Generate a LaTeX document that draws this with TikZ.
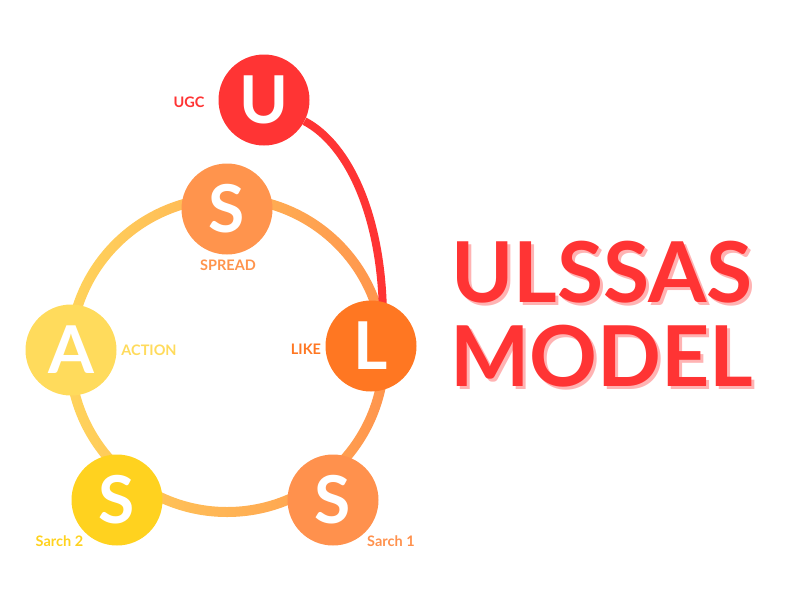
\documentclass[tikz,border=0pt]{standalone}
\usepackage{fontspec}
\setmainfont{Lato}
\definecolor{cU}{HTML}{FF3434}
\definecolor{cSp}{HTML}{FF944D}
\definecolor{cL}{HTML}{FF7722}
\definecolor{cA}{HTML}{FFDB5C}
\definecolor{cS2}{HTML}{FFD21F}
\definecolor{cS1}{HTML}{FF914D}
\definecolor{ringL}{HTML}{FFD45C}
\definecolor{ringR}{HTML}{FF944D}
\definecolor{shadowc}{HTML}{FFB3B3}
\tikzset{
  ball/.style={circle, minimum size=91pt, inner sep=0pt, text=white, font=\fontsize{66}{66}\selectfont\bfseries},
  lab/.style={font=\fontsize{14.5}{15}\selectfont\bfseries, inner sep=0pt},
  title/.style={font=\fontsize{84}{84}\selectfont\bfseries, inner sep=0pt, align=center}
}
\begin{document}
\begin{tikzpicture}[x=1pt,y=-1pt]
\useasboundingbox (0,0) rectangle (800,600);
% ring
\coordinate (rc) at (227,355);
\shade[even odd rule, left color=ringL, right color=ringR] (rc) circle (162pt) (rc) circle (152pt);
% nodes
\node[ball, fill=cU] (U) at (264,100) {U};
\coordinate (Lr) at (383,320);
\draw[cU, line width=8pt] (U) .. controls (350,145) and (383,220) .. (Lr);
\node[ball, fill=cSp] (S) at (227,209) {S};
\node[ball, fill=cL] (L) at (371,346) {L};
\node[ball, fill=cA] (A) at (71,350) {A};
\node[ball, fill=cS2] (S2) at (117,500) {S};
\node[ball, fill=cS1] (S1) at (333,500) {S};
% labels
\node[lab, text=cU] (lU) at (189,102) {UGC};
\node[lab, text=cSp] (lS) at (228,265) {SPREAD};
\node[lab, text=cL] (lL) at (306,349) {LIKE};
\node[lab, text=cA] (lA) at (149,350) {ACTION};
\node[lab, text=cS2] (lS2) at (59.5,541) {Sarch 2};
\node[lab, text=cS1] (lS1) at (391,541) {Sarch 1};
% title
\node[title, text=shadowc] (tsh) at (605,317) {ULSSAS\\[0pt]MODEL};
\node[title, text=cU] (t) at (602,314) {ULSSAS\\[0pt]MODEL};
\end{tikzpicture}
\end{document}
